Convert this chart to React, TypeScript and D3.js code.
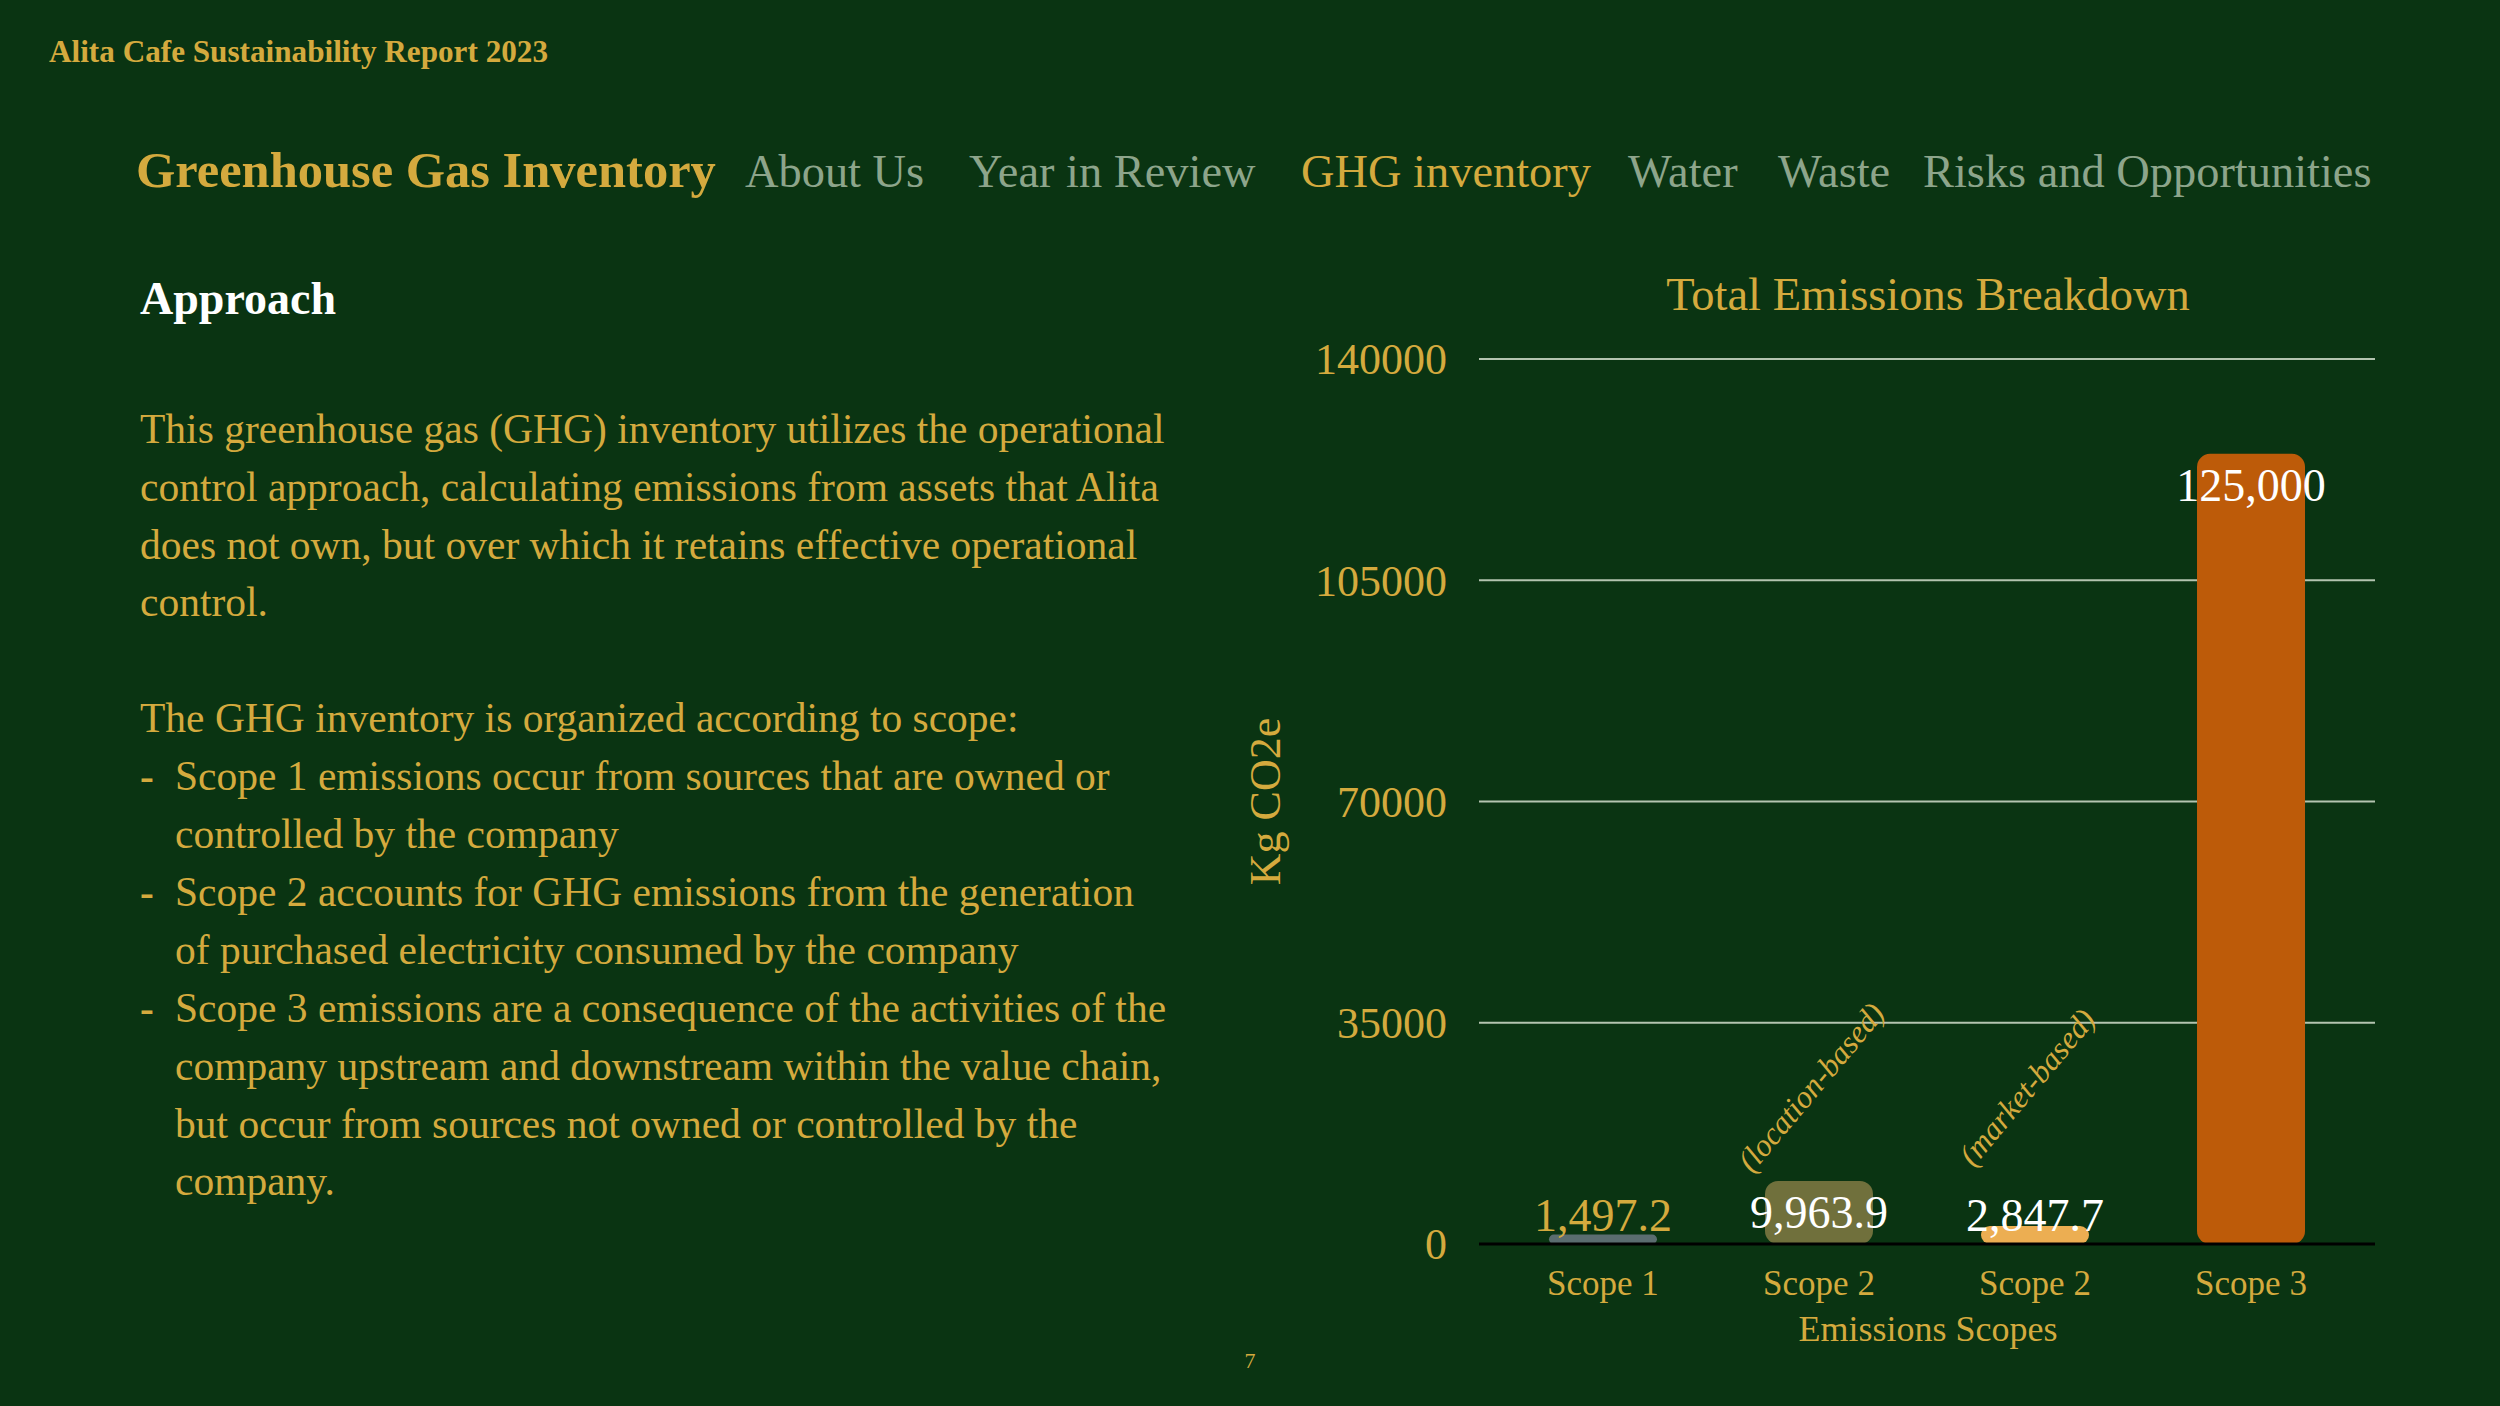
import React from "react";
import * as d3 from "d3";

const reportTitle = "Alita Cafe Sustainability Report 2023";
const pageTitle = "Greenhouse Gas Inventory";
const navItems = ["About Us", "Year in Review", "GHG inventory", "Water", "Waste", "Risks and Opportunities"];
const navActive = "GHG inventory";
const navX = [745, 969, 1301, 1628, 1778, 1923];

const sectionHeading = "Approach";
const introLines = [
  "This greenhouse gas (GHG) inventory utilizes the operational",
  "control approach, calculating emissions from assets that Alita",
  "does not own, but over which it retains effective operational",
  "control.",
];
const scopeIntro = "The GHG inventory is organized according to scope:";
const bulletLines = [
  ["Scope 1 emissions occur from sources that are owned or", "controlled by the company"],
  ["Scope 2 accounts for GHG emissions from the generation", "of purchased electricity consumed by the company"],
  [
    "Scope 3 emissions are a consequence of the activities of the",
    "company upstream and downstream within the value chain,",
    "but occur from sources not owned or controlled by the",
    "company.",
  ],
];

const chartTitle = "Total Emissions Breakdown";
const yAxisTitle = "Kg CO2e";
const xAxisTitle = "Emissions Scopes";
const categoryKeys = ["scope1", "scope2loc", "scope2mkt", "scope3"];
const categoryLabels = ["Scope 1", "Scope 2", "Scope 2", "Scope 3"];
const categoryNotes = ["", "(location-based)", "(market-based)", ""];
const emissions = [1497.2, 9963.9, 2847.7, 125000];
const yTicks = [0, 35000, 70000, 105000, 140000];
const pageNumber = "7";

const BG = "#0a3412";
const GOLD = "#d4aa3e";
const NAV = "#8da58b";
const WHITE = "#ffffff";
const barColors = ["#5b6d70", "#70703c", "#ecae52", "#bd5b09"];
const labelColors = [GOLD, WHITE, WHITE, WHITE];
const FONT = "'Liberation Serif', 'Times New Roman', serif";

export default function App() {
  const W = 2500;
  const H = 1406;
  const plotLeft = 1479;
  const plotRight = 2375;
  const y = d3.scaleLinear().domain([0, 140000]).range([1244, 359]);
  const x = d3
    .scaleBand<string>()
    .domain(categoryKeys)
    .range([plotLeft, plotRight])
    .paddingInner(0.5)
    .paddingOuter(0.324);
  const fmt = (v: number) => (v % 1 === 0 ? d3.format(",")(v) : d3.format(",.1f")(v));
  const lineH = 57.9;
  const textTop = 442.7;
  const bodySize = 41.5;

  const bodyLines: { text: string; bullet: boolean; indent: boolean }[] = [];
  introLines.forEach((t) => bodyLines.push({ text: t, bullet: false, indent: false }));
  bodyLines.push({ text: "", bullet: false, indent: false });
  bodyLines.push({ text: scopeIntro, bullet: false, indent: false });
  bulletLines.forEach((group) =>
    group.forEach((t, i) => bodyLines.push({ text: t, bullet: i === 0, indent: true }))
  );

  return (
    <svg
      width={W}
      height={H}
      style={{ position: "absolute", left: 0, top: 0, display: "block" }}
      fontFamily={FONT}
    >
      <rect x={0} y={0} width={W} height={H} fill={BG} />
      <text x={49} y={62} fill={GOLD} fontSize={31.2} fontWeight="bold">
        {reportTitle}
      </text>
      <text x={136} y={187} fill={GOLD} fontSize={50.5} fontWeight="bold">
        {pageTitle}
      </text>
      {navItems.map((n, i) => (
        <text key={n} x={navX[i]} y={187} fill={n === navActive ? GOLD : NAV} fontSize={46.4}>
          {n}
        </text>
      ))}

      <text x={140} y={314} fill={WHITE} fontSize={46} fontWeight="bold">
        {sectionHeading}
      </text>
      {bodyLines.map((l, i) => (
        <g key={i}>
          {l.bullet && (
            <text x={140} y={textTop + i * lineH} fill={GOLD} fontSize={bodySize} fontWeight="bold">
              -
            </text>
          )}
          <text x={l.indent ? 175 : 140} y={textTop + i * lineH} fill={GOLD} fontSize={bodySize}>
            {l.text}
          </text>
        </g>
      ))}

      {/* chart */}
      <text x={1928} y={310} fill={GOLD} fontSize={46.5} textAnchor="middle">
        {chartTitle}
      </text>
      {yTicks.map((t) => (
        <g key={t}>
          {t !== 0 && (
            <line x1={plotLeft} x2={plotRight} y1={y(t)} y2={y(t)} stroke="#b4c4b0" strokeWidth={2} />
          )}
          <text x={1447} y={y(t)} dy="0.35em" fill={GOLD} fontSize={44} textAnchor="end">
            {t}
          </text>
        </g>
      ))}
      <text
        transform={`translate(1280, ${(y(0) + y(140000)) / 2}) rotate(-90)`}
        fill={GOLD}
        fontSize={44}
        textAnchor="middle"
      >
        {yAxisTitle}
      </text>

      {categoryKeys.map((k, i) => {
        const bx = x(k) as number;
        const bw = x.bandwidth();
        const top = y(emissions[i]);
        const h = y(0) - top;
        const r = Math.min(13, h / 2);
        return (
          <rect key={k} x={bx} y={top} width={bw} height={h} rx={r} ry={r} fill={barColors[i]} />
        );
      })}
      <line x1={plotLeft} x2={plotRight} y1={y(0)} y2={y(0)} stroke="#000000" strokeWidth={3} />
      {categoryKeys.map((k, i) => {
        const cx = (x(k) as number) + x.bandwidth() / 2;
        const top = y(emissions[i]);
        const by = Math.min(top + 47, y(0) - 13);
        return (
          <g key={k}>
            <text x={cx} y={by} fill={labelColors[i]} fontSize={46} textAnchor="middle">
              {fmt(emissions[i])}
            </text>
            <text x={cx} y={1295} fill={GOLD} fontSize={35} textAnchor="middle">
              {categoryLabels[i]}
            </text>
            {categoryNotes[i] && (
              <text
                transform={`translate(${cx}, 1094) rotate(-50)`}
                fill={GOLD}
                fontSize={31.5}
                fontStyle="italic"
                textAnchor="middle"
              >
                {categoryNotes[i]}
              </text>
            )}
          </g>
        );
      })}
      <text x={1928} y={1341} fill={GOLD} fontSize={36} textAnchor="middle">
        {xAxisTitle}
      </text>
      <text x={1250} y={1368} fill={GOLD} fontSize={22} textAnchor="middle">
        {pageNumber}
      </text>
    </svg>
  );
}
